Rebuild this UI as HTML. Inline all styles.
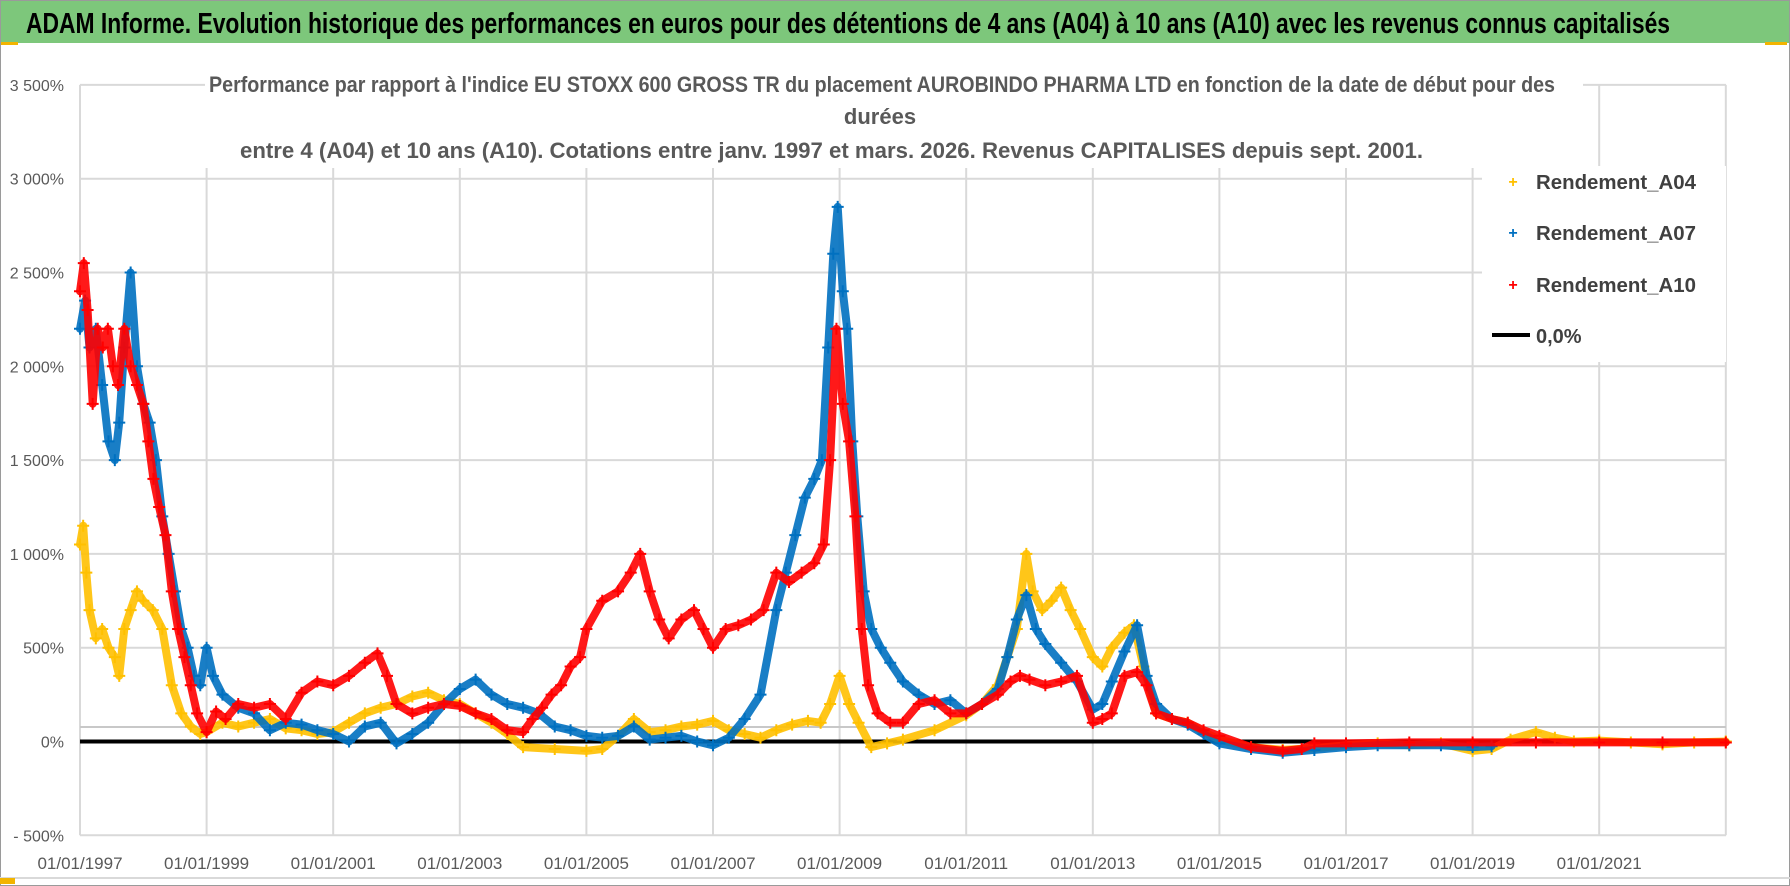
<!DOCTYPE html>
<html><head><meta charset="utf-8"><style>
html,body{margin:0;padding:0;background:#fff;}
svg{display:block;font-family:"Liberation Sans",sans-serif;}
</style></head><body>
<svg id="chart" width="1790" height="886" viewBox="0 0 1790 886" xmlns="http://www.w3.org/2000/svg">
<rect x="0" y="0" width="1790" height="886" fill="#fff"/>
<rect x="0" y="0" width="1790" height="43" fill="#7dc77b"/>
<rect x="0" y="42" width="18" height="3" fill="#f2b400"/>
<rect x="1765" y="42" width="22" height="3" fill="#f2b400"/>
<text x="26" y="33" font-size="29" font-weight="bold" fill="#000" textLength="1644" lengthAdjust="spacingAndGlyphs">ADAM Informe. Evolution historique des performances en euros pour des détentions de 4 ans (A04) à 10 ans (A10) avec les revenus connus capitalisés</text>
<rect x="0.5" y="0.5" width="1789" height="885" fill="none" stroke="#9a9a9a"/>
<line x1="0" y1="878" x2="1790" y2="878" stroke="#d9d9d9" stroke-width="2"/>
<rect x="0" y="878" width="15" height="6" fill="#f2b400"/>
<g id="grid"></g>
<g id="series"></g>
<rect x="205" y="62" width="1378" height="106" fill="#fff"/>
<text x="209" y="92" font-size="22" font-weight="bold" fill="#595959" textLength="1346" lengthAdjust="spacingAndGlyphs">Performance par rapport à l'indice EU STOXX 600 GROSS TR  du placement AUROBINDO PHARMA LTD en fonction de la date de début pour des</text>
<text x="880" y="124" font-size="22" font-weight="bold" fill="#595959" text-anchor="middle">durées</text>
<text x="240" y="158" font-size="22" font-weight="bold" fill="#595959" textLength="1183" lengthAdjust="spacingAndGlyphs">entre 4 (A04) et 10 ans (A10).  Cotations entre janv. 1997 et mars. 2026. Revenus CAPITALISES depuis sept. 2001.</text>
<rect x="1482" y="166" width="244" height="196" fill="#fff"/>
<g id="legend">
<text x="1513" y="187" font-size="16" font-weight="bold" fill="#ffc000" text-anchor="middle">+</text>
<text x="1536" y="189" font-size="20" font-weight="bold" fill="#404040" textLength="160" lengthAdjust="spacingAndGlyphs">Rendement_A04</text>
<text x="1513" y="238" font-size="16" font-weight="bold" fill="#0070c0" text-anchor="middle">+</text>
<text x="1536" y="240" font-size="20" font-weight="bold" fill="#404040" textLength="160" lengthAdjust="spacingAndGlyphs">Rendement_A07</text>
<text x="1513" y="290" font-size="16" font-weight="bold" fill="#ff0000" text-anchor="middle">+</text>
<text x="1536" y="292" font-size="20" font-weight="bold" fill="#404040" textLength="160" lengthAdjust="spacingAndGlyphs">Rendement_A10</text>
<line x1="1492" y1="335" x2="1530" y2="335" stroke="#000" stroke-width="4"/>
<text x="1536" y="343" font-size="20" font-weight="bold" fill="#404040">0,0%</text>
</g>
</svg>
<script>
const yTicks=[3500,3000,2500,2000,1500,1000,500,0,-500];
const yTickLabels=["3 500%","3 000%","2 500%","2 000%","1 500%","1 000%","500%","0%","- 500%"];
const xTicks=[1997,1999,2001,2003,2005,2007,2009,2011,2013,2015,2017,2019,2021];
const xTickLabels=["01/01/1997","01/01/1999","01/01/2001","01/01/2003","01/01/2005","01/01/2007","01/01/2009","01/01/2011","01/01/2013","01/01/2015","01/01/2017","01/01/2019","01/01/2021"];
const refLineValue=77;
const a04Dates=[1997.0,1997.05,1997.1,1997.15,1997.25,1997.35,1997.45,1997.55,1997.62,1997.7,1997.8,1997.9,1998.0,1998.15,1998.3,1998.45,1998.6,1998.75,1998.9,1999.0,1999.25,1999.5,1999.75,2000.0,2000.25,2000.5,2000.75,2001.0,2001.25,2001.5,2001.75,2002.0,2002.25,2002.5,2002.75,2003.0,2003.25,2003.5,2003.75,2004.0,2004.5,2005.0,2005.25,2005.5,2005.75,2006.0,2006.25,2006.5,2006.75,2007.0,2007.25,2007.5,2007.75,2008.0,2008.25,2008.5,2008.7,2008.85,2009.0,2009.15,2009.3,2009.5,2009.75,2010.0,2010.5,2011.0,2011.25,2011.5,2011.65,2011.8,2011.95,2012.05,2012.2,2012.35,2012.5,2012.65,2012.8,2013.0,2013.15,2013.3,2013.5,2013.65,2013.8,2014.0,2014.25,2014.5,2014.75,2015.0,2015.5,2016.0,2016.5,2017.0,2017.5,2018.0,2018.5,2019.0,2019.3,2019.6,2020.0,2020.3,2020.6,2021.0,2021.5,2022.0,2022.5,2023.0];
const a04Values=[1050,1150,900,700,550,600,500,450,350,600,700,800,750,700,600,300,150,80,40,50,100,80,100,120,70,60,40,50,100,150,180,200,240,260,220,200,150,100,40,-30,-40,-50,-40,30,120,50,60,80,90,110,60,40,20,60,90,110,100,200,350,200,100,-30,-10,10,60,140,200,300,450,600,1000,800,700,750,820,700,600,450,400,500,580,620,400,150,120,100,50,10,-30,-45,-35,-20,-10,-20,-10,-50,-40,10,50,20,0,5,-5,-15,-5,0];
const a07Dates=[1997.0,1997.08,1997.15,1997.25,1997.35,1997.45,1997.55,1997.62,1997.7,1997.8,1997.9,1998.0,1998.1,1998.2,1998.3,1998.4,1998.5,1998.6,1998.7,1998.8,1998.9,1999.0,1999.1,1999.25,1999.5,1999.75,2000.0,2000.25,2000.5,2000.75,2001.0,2001.25,2001.5,2001.75,2002.0,2002.25,2002.5,2002.75,2003.0,2003.25,2003.5,2003.75,2004.0,2004.25,2004.5,2004.75,2005.0,2005.25,2005.5,2005.75,2006.0,2006.25,2006.5,2006.75,2007.0,2007.25,2007.5,2007.75,2008.0,2008.15,2008.3,2008.45,2008.6,2008.72,2008.82,2008.9,2008.97,2009.05,2009.12,2009.2,2009.28,2009.38,2009.5,2009.65,2009.8,2010.0,2010.25,2010.5,2010.75,2011.0,2011.25,2011.5,2011.65,2011.8,2011.95,2012.1,2012.25,2012.5,2012.75,2013.0,2013.15,2013.3,2013.5,2013.7,2013.85,2014.0,2014.25,2014.5,2014.75,2015.0,2015.5,2016.0,2016.5,2017.0,2017.5,2018.0,2018.5,2019.0,2019.3];
const a07Values=[2200,2350,2100,2200,1900,1600,1500,1700,2100,2500,2000,1800,1700,1500,1200,1000,800,600,500,350,300,500,350,250,180,150,60,100,90,60,40,0,80,100,-10,40,100,200,280,330,250,200,180,150,80,60,30,20,30,80,10,20,30,0,-20,20,120,250,700,900,1100,1300,1400,1500,2100,2600,2850,2400,2200,1600,1200,800,600,500,420,320,250,200,220,150,200,280,450,650,780,600,520,420,320,170,200,320,480,620,350,200,120,90,40,-10,-40,-60,-45,-30,-20,-20,-20,-30,-25];
const a10Dates=[1997.0,1997.06,1997.12,1997.2,1997.28,1997.36,1997.44,1997.52,1997.6,1997.7,1997.8,1997.9,1998.0,1998.08,1998.16,1998.25,1998.35,1998.45,1998.55,1998.65,1998.75,1998.85,1999.0,1999.15,1999.3,1999.5,1999.75,2000.0,2000.25,2000.5,2000.75,2001.0,2001.25,2001.5,2001.7,2001.85,2002.0,2002.25,2002.5,2002.75,2003.0,2003.25,2003.5,2003.75,2004.0,2004.15,2004.3,2004.45,2004.6,2004.75,2004.9,2005.0,2005.25,2005.5,2005.7,2005.85,2006.0,2006.15,2006.3,2006.5,2006.7,2006.85,2007.0,2007.2,2007.4,2007.6,2007.8,2008.0,2008.2,2008.4,2008.6,2008.75,2008.85,2008.95,2009.05,2009.15,2009.25,2009.35,2009.45,2009.6,2009.8,2010.0,2010.25,2010.5,2010.75,2011.0,2011.25,2011.5,2011.7,2011.85,2012.0,2012.25,2012.5,2012.75,2013.0,2013.15,2013.3,2013.5,2013.7,2013.85,2014.0,2014.25,2014.5,2014.75,2015.0,2015.5,2016.0,2016.3,2016.5,2017.0,2018.0,2019.0,2020.0,2021.0,2022.0,2023.0];
const a10Values=[2400,2550,2300,1800,2200,2100,2200,2000,1900,2200,2000,1900,1800,1600,1400,1250,1100,800,600,450,300,150,50,160,120,200,180,200,120,260,320,300,350,420,470,350,200,150,180,200,190,150,120,60,50,120,180,250,300,400,450,600,750,800,900,1000,800,650,550,650,700,600,500,600,620,650,700,900,850,900,950,1050,1500,2200,1800,1600,1200,600,300,150,100,100,200,220,150,150,200,250,320,350,330,300,320,350,100,120,150,350,370,300,150,120,100,60,30,-30,-50,-40,-10,-10,-5,-5,-5,-5,-5,-5];
const NS="http://www.w3.org/2000/svg";
const X0=80,PX_PER_YEAR=63.3,Y0=741.5,PX_PER_PCT=0.1876,XMAX=1726;
function xScale(t){return X0+(t-1997)*PX_PER_YEAR;}
function yScale(v){return Y0-v*PX_PER_PCT;}
const grid=document.getElementById('grid');
const seriesG=document.getElementById('series');
function mk(tag,attrs,parent){const e=document.createElementNS(NS,tag);for(const k in attrs)e.setAttribute(k,attrs[k]);parent.appendChild(e);return e;}
yTicks.forEach((v,i)=>{
  const l=mk('line',{x1:X0,x2:XMAX,y1:yScale(v),y2:yScale(v),stroke:'#d9d9d9','stroke-width':2},grid);
  
  
  const t=mk('text',{x:64,y:yScale(v)+6,'font-size':16,fill:'#595959','text-anchor':'end'},grid);
  t.textContent=yTickLabels[i];
  
  
});
xTicks.concat([2023]).forEach((yr)=>{
  const l=mk('line',{x1:xScale(yr),x2:xScale(yr),y1:yScale(3500),y2:yScale(-500),stroke:'#d9d9d9','stroke-width':2},grid);
  
  
});
xTicks.forEach((yr,i)=>{
  const t=mk('text',{x:xScale(yr),y:869,'font-size':17,fill:'#595959','text-anchor':'middle'},grid);
  t.textContent=xTickLabels[i];
  
  
});
const ref=mk('line',{x1:X0,x2:XMAX,y1:yScale(refLineValue),y2:yScale(refLineValue),stroke:'#c8c8c8','stroke-width':2},grid);


const zero=mk('line',{x1:X0,x2:XMAX,y1:yScale(0),y2:yScale(0),stroke:'#000','stroke-width':4},seriesG);


function drawSeries(dates,vals,color,name){
  const g=mk('g',{},seriesG);
  
  
  const pts=dates.map((d,i)=>xScale(d).toFixed(1)+','+yScale(vals[i]).toFixed(1)).join(' ');
  mk('polyline',{points:pts,fill:'none',stroke:color,'stroke-width':8,'stroke-linejoin':'round','stroke-linecap':'round','opacity':0.9},g);
  dates.forEach((d,i)=>{
    const x=xScale(d),y=yScale(vals[i]);
    const p=mk('path',{d:`M${x-6},${y}H${x+6}M${x},${y-6}V${y+6}`,stroke:color,'stroke-width':2},g);
    
    
  });
}
drawSeries(a04Dates,a04Values,'#ffc000','series-a04');
drawSeries(a07Dates,a07Values,'#0070c0','series-a07');
drawSeries(a10Dates,a10Values,'#ff0000','series-a10');
</script>
</body></html>
